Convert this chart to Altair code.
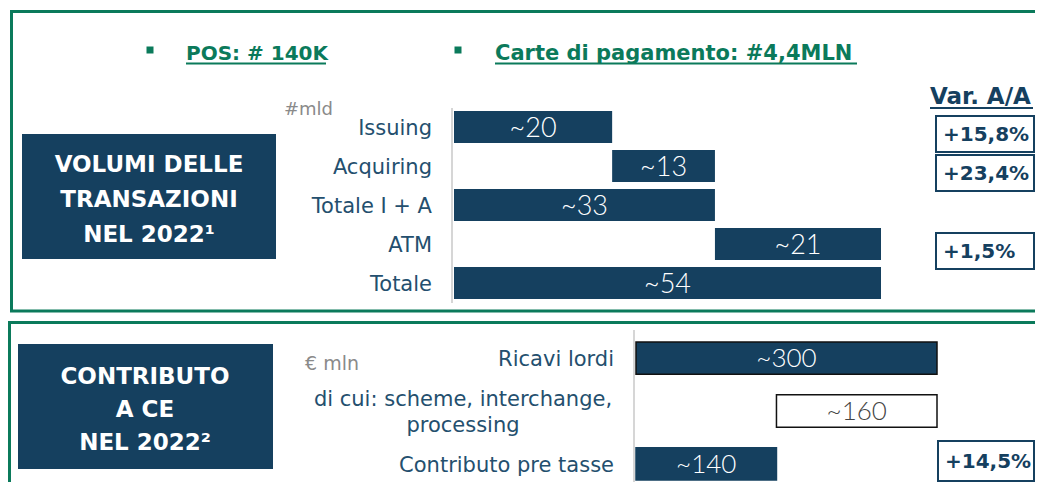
import altair as alt
import pandas as pd

# ---------------- data ----------------
vol_categorie = ["Issuing", "Acquiring", "Totale I + A", "ATM", "Totale"]
vol_valori = [20, 13, 33, 21, 54]
vol_inizio = [0, 20, 0, 33, 0]

var_categorie = ["Issuing", "Acquiring", "ATM"]
var_valori = ["+15,8%", "+23,4%", "+1,5%"]

ce_categorie = ["Ricavi lordi", "di cui: scheme, interchange, processing", "Contributo pre tasse"]
ce_valori = [300, 160, 140]
ce_inizio = [0, 140, 0]

ce_var_categorie = ["Contributo pre tasse"]
ce_var_valori = ["+14,5%"]

# ---------------- styles ----------------
NAVY = "#15405f"
GREEN = "#0b7a5b"
LABEL = "#244f6e"
GRAY = "#8a8a8a"
FONT = "DejaVu Sans"
NUMFONT = "Lato"

one = pd.DataFrame({"k": [0]})

vol_df = pd.DataFrame({"categoria": vol_categorie, "valore": vol_valori, "inizio": vol_inizio})
var_df = pd.DataFrame({"categoria": var_categorie, "var": var_valori})
ce_df = pd.DataFrame({"categoria": ce_categorie, "valore": ce_valori, "inizio": ce_inizio})
ce_var_df = pd.DataFrame({"categoria": ce_var_categorie, "var": ce_var_valori})

# scales
x_vol = alt.Scale(domain=[0, 54], range=[446, 873])
y_vol = alt.Scale(type="band", domain=vol_categorie, range=[103, 291], paddingInner=0.18, paddingOuter=0)
y_var = alt.Scale(type="band", domain=vol_categorie, range=[108, 300], paddingInner=0.08, paddingOuter=0)
x_ce = alt.Scale(domain=[0, 300], range=[628, 929])
y_ce = alt.Scale(type="band", domain=ce_categorie, range=[334, 472], paddingInner=0.39, paddingOuter=0)
y_cevar = alt.Scale(type="band", domain=ce_categorie, range=[325, 473], paddingInner=0.26, paddingOuter=0)

layers = []

# ---- frames ----
layers.append(alt.Chart(one).mark_rect(filled=False, stroke=GREEN, strokeWidth=3).encode(
    x=alt.value(3.5), x2=alt.value(1045), y=alt.value(3.5), y2=alt.value(303)))
layers.append(alt.Chart(one).mark_rect(filled=False, stroke=GREEN, strokeWidth=3).encode(
    x=alt.value(1.5), x2=alt.value(1045), y=alt.value(314.5), y2=alt.value(520)))

# ---- header ----
layers.append(alt.Chart(one).mark_square(size=49, color=GREEN, opacity=1).encode(
    x=alt.value(142), y=alt.value(42)))
layers.append(alt.Chart(one).mark_square(size=49, color=GREEN, opacity=1).encode(
    x=alt.value(450), y=alt.value(42)))
layers.append(alt.Chart(one).mark_text(align="left", baseline="alphabetic", font=FONT, fontSize=20,
                                       fontWeight="bold", color=GREEN).encode(
    x=alt.value(178), y=alt.value(52), text=alt.value("POS: # 140K")))
layers.append(alt.Chart(one).mark_rule(color=GREEN, strokeWidth=2).encode(
    x=alt.value(178), x2=alt.value(318), y=alt.value(55.5)))
layers.append(alt.Chart(one).mark_text(align="left", baseline="alphabetic", font=FONT, fontSize=21,
                                       fontWeight="bold", color=GREEN).encode(
    x=alt.value(487), y=alt.value(52), text=alt.value("Carte di pagamento: #4,4MLN")))
layers.append(alt.Chart(one).mark_rule(color=GREEN, strokeWidth=2).encode(
    x=alt.value(487), x2=alt.value(849), y=alt.value(55.5)))

# ---- title boxes ----
layers.append(alt.Chart(one).mark_rect(color=NAVY).encode(
    x=alt.value(14), x2=alt.value(268), y=alt.value(126), y2=alt.value(251)))
layers.append(alt.Chart(one).mark_text(align="center", baseline="middle", font=FONT, fontSize=23,
                                       fontWeight="bold", color="white", lineHeight=35).encode(
    x=alt.value(141), y=alt.value(157),
    text=alt.value(["VOLUMI DELLE", "TRANSAZIONI", "NEL 2022\u00b9"])))
layers.append(alt.Chart(one).mark_rect(color=NAVY).encode(
    x=alt.value(10), x2=alt.value(265), y=alt.value(336), y2=alt.value(461)))
layers.append(alt.Chart(one).mark_text(align="center", baseline="middle", font=FONT, fontSize=23,
                                       fontWeight="bold", color="white", lineHeight=33).encode(
    x=alt.value(137), y=alt.value(369),
    text=alt.value(["CONTRIBUTO", "A CE", "NEL 2022\u00b2"])))

# ---- units ----
layers.append(alt.Chart(one).mark_text(align="left", baseline="middle", font=FONT, fontSize=18,
                                       color=GRAY).encode(
    x=alt.value(276), y=alt.value(102), text=alt.value("#mld")))
layers.append(alt.Chart(one).mark_text(align="left", baseline="middle", font=FONT, fontSize=19,
                                       color=GRAY).encode(
    x=alt.value(297), y=alt.value(356), text=alt.value("\u20ac mln")))

# ---- axis lines ----
layers.append(alt.Chart(one).mark_rule(color="#d6d6d6", strokeWidth=2).encode(
    x=alt.value(444), y=alt.value(100), y2=alt.value(295)))
layers.append(alt.Chart(one).mark_rule(color="#d6d6d6", strokeWidth=2).encode(
    x=alt.value(626), y=alt.value(322), y2=alt.value(474)))

# ---- top waterfall ----
vol_base = alt.Chart(vol_df).transform_calculate(
    fine="datum.inizio + datum.valore",
    centro="datum.inizio + datum.valore / 2",
    etichetta="'~' + datum.valore")
layers.append(vol_base.mark_rect(color=NAVY).encode(
    x=alt.X("inizio:Q", scale=x_vol, axis=None),
    x2="fine:Q",
    y=alt.Y("categoria:N", scale=y_vol, axis=None)))
layers.append(vol_base.mark_text(font=NUMFONT, fontSize=27, fontWeight=300, color="white",
                                 baseline="middle", dy=2).encode(
    x=alt.X("centro:Q", scale=x_vol, axis=None),
    y=alt.Y("categoria:N", scale=y_vol, axis=None),
    text="etichetta:N"))
layers.append(vol_base.mark_text(font=FONT, fontSize=21, color=LABEL, align="right",
                                 baseline="middle", dy=2).encode(
    x=alt.value(424),
    y=alt.Y("categoria:N", scale=y_vol, axis=None),
    text="categoria:N"))

# ---- Var. A/A ----
layers.append(alt.Chart(one).mark_text(align="left", baseline="alphabetic", font=FONT, fontSize=23,
                                       fontWeight="bold", color=NAVY).encode(
    x=alt.value(922), y=alt.value(96), text=alt.value("Var. A/A")))
layers.append(alt.Chart(one).mark_rule(color=NAVY, strokeWidth=2).encode(
    x=alt.value(922), x2=alt.value(1025), y=alt.value(100)))
layers.append(alt.Chart(var_df).mark_rect(fill="white", stroke=NAVY, strokeWidth=2).encode(
    x=alt.value(928), x2=alt.value(1026),
    y=alt.Y("categoria:N", scale=y_var, axis=None)))
layers.append(alt.Chart(var_df).mark_text(align="left", baseline="middle", font=FONT, fontSize=20,
                                          fontWeight="bold", color=NAVY, dy=1).encode(
    x=alt.value(935),
    y=alt.Y("categoria:N", scale=y_var, axis=None),
    text="var:N"))

# ---- bottom waterfall ----
ce_base = alt.Chart(ce_df).transform_calculate(
    fine="datum.inizio + datum.valore",
    centro="datum.inizio + datum.valore / 2",
    etichetta="'~' + datum.valore")
is_parte = alt.datum.categoria == ce_categorie[1]
is_totale = alt.datum.categoria == ce_categorie[2]
layers.append(ce_base.mark_rect(strokeWidth=1.5).encode(
    x=alt.X("inizio:Q", scale=x_ce, axis=None),
    x2="fine:Q",
    y=alt.Y("categoria:N", scale=y_ce, axis=None),
    fill=alt.condition(is_parte, alt.value("white"), alt.value(NAVY)),
    stroke=alt.condition(is_totale, alt.value(NAVY), alt.value("#111111"))))
layers.append(ce_base.mark_text(font=NUMFONT, fontSize=26, fontWeight=300, baseline="middle",
                                dy=1).encode(
    x=alt.X("centro:Q", scale=x_ce, axis=None),
    y=alt.Y("categoria:N", scale=y_ce, axis=None),
    text="etichetta:N",
    color=alt.condition(is_parte, alt.value("#444444"), alt.value("white"))))
layers.append(ce_base.transform_filter(~is_parte).mark_text(
    font=FONT, fontSize=21, color=LABEL, align="right", baseline="middle", dy=2).encode(
    x=alt.value(606),
    y=alt.Y("categoria:N", scale=y_ce, axis=None),
    text="categoria:N"))
layers.append(ce_base.transform_filter(is_parte).transform_calculate(
    righe="['di cui: scheme, interchange,', 'processing']").mark_text(
    font=FONT, fontSize=21, color=LABEL, align="center", baseline="middle", lineHeight=26,
    dy=-11).encode(
    x=alt.value(455),
    y=alt.Y("categoria:N", scale=y_ce, axis=None),
    text="righe:N"))
layers.append(alt.Chart(ce_var_df).mark_rect(fill="white", stroke=NAVY, strokeWidth=2).encode(
    x=alt.value(930), x2=alt.value(1026),
    y=alt.Y("categoria:N", scale=y_cevar, axis=None)))
layers.append(alt.Chart(ce_var_df).mark_text(align="left", baseline="middle", font=FONT, fontSize=20,
                                             fontWeight="bold", color=NAVY, dy=1).encode(
    x=alt.value(937),
    y=alt.Y("categoria:N", scale=y_cevar, axis=None),
    text="var:N"))

chart = alt.layer(*layers).resolve_scale(x="independent", y="independent").properties(
    width=1027, height=474, padding=0, autosize=alt.AutoSizeParams(type="none")
).configure_view(stroke=None)

chart.save("out.html", embed_options={"renderer": "svg", "actions": False})
